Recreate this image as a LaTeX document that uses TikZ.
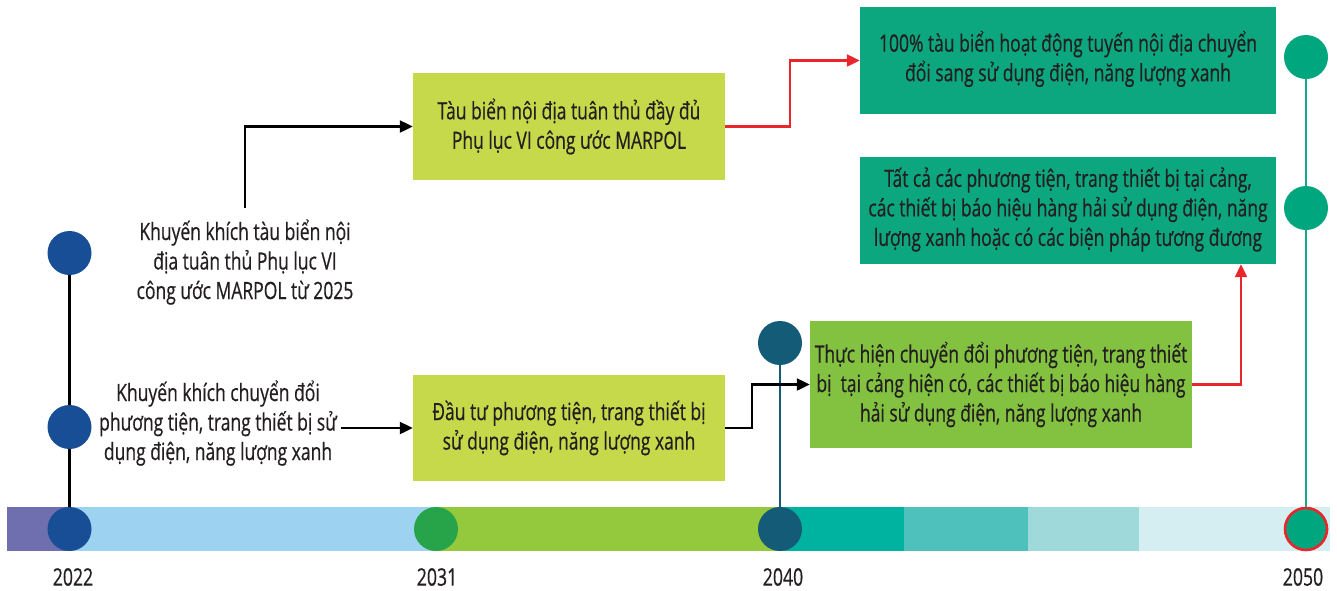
\documentclass[tikz,border=0pt]{standalone}
\usepackage{fontspec}
\setmainfont{Open Sans}[FakeStretch=0.735,FakeBold=0.5]
\usetikzlibrary{arrows.meta}
\definecolor{txt}{HTML}{231F20}
\definecolor{barPurple}{HTML}{6F6FB0}
\definecolor{barBlue}{HTML}{9DD2F0}
\definecolor{barGreen}{HTML}{94C83D}
\definecolor{barTealA}{HTML}{00B2A0}
\definecolor{barTealB}{HTML}{4FC1BC}
\definecolor{barTealC}{HTML}{A0D9DA}
\definecolor{barTealD}{HTML}{D5EEF1}
\definecolor{dotBlue}{HTML}{174E95}
\definecolor{dotGreen}{HTML}{27A34A}
\definecolor{dotPetrol}{HTML}{145B77}
\definecolor{dotTeal}{HTML}{00A67E}
\definecolor{redline}{HTML}{E8262B}
\definecolor{boxYellow}{HTML}{C5D94B}
\definecolor{boxGreen}{HTML}{83C241}
\definecolor{boxTeal}{HTML}{0CA67F}
\definecolor{lineTeal}{HTML}{18A88A}
\tikzset{
  box/.style={rectangle, inner sep=0pt, align=center, text=txt},
  freetext/.style={align=center, text=txt, inner sep=4pt},
  dot/.style={circle, minimum size=44pt, inner sep=0pt},
  year/.style={text=txt, font=\fontsize{24}{28}\selectfont},
  conn/.style={line width=2.2pt, -{Triangle[length=13pt,width=12pt]}},
  vline/.style={line width=2.2pt}
}
\begin{document}
\begin{tikzpicture}[x=1pt,y=-1pt,font=\fontsize{23.8}{29.5}\selectfont]
\useasboundingbox (0,0) rectangle (1337,590);
% timeline bar
\fill[barPurple] (7,507) rectangle (69,551);
\fill[barBlue] (69,507) rectangle (438,551);
\fill[barGreen] (438,507) rectangle (780,551);
\fill[barTealA] (780,507) rectangle (904,551);
\fill[barTealB] (904,507) rectangle (1028,551);
\fill[barTealC] (1028,507) rectangle (1139,551);
\fill[barTealD] (1139,507) rectangle (1330,551);
% dots
\node[dot, fill=dotBlue] (c22a) at (69.5,253) {};
\node[dot, fill=dotBlue] (c22b) at (69.5,427) {};
\node[dot, fill=dotBlue] (c22) at (69.5,529) {};
\node[dot, fill=dotGreen] (c31) at (436,529) {};
\node[dot, fill=dotPetrol] (c40a) at (780,343) {};
\node[dot, fill=dotPetrol] (c40) at (780,529) {};
\node[dot, fill=dotTeal] (c50a) at (1306,57) {};
\node[dot, fill=dotTeal] (c50b) at (1306,208) {};
\node[dot, fill=dotTeal, draw=redline, line width=2.6pt, minimum size=42pt] (c50) at (1306,529) {};
% vertical lines
\draw[vline, black] (c22a) -- (c22b);
\draw[vline, black] (c22b) -- (c22);
\draw[vline, dotPetrol] (c40a) -- (c40);
\draw[vline, lineTeal] (c50a) -- (c50b);
\draw[vline, lineTeal] (c50b) -- (c50);
% years
\node[year] (y22) at (73,577) {2022};
\node[year] (y31) at (437,577) {2031};
\node[year] (y40) at (783,577) {2040};
\node[year] (y50) at (1303,577) {2050};
% boxes
\node[box, fill=boxYellow, minimum width=312pt, minimum height=107pt] (A) at (569,126.5)
  {Tàu biển nội địa tuân thủ đầy đủ\\Phụ lục VI công ước MARPOL};
\node[box, fill=boxYellow, minimum width=312pt, minimum height=106pt] (B) at (569,428)
  {Đầu tư phương tiện, trang thiết bị\\sử dụng điện, năng lượng xanh};
\node[box, fill=boxGreen, minimum width=382pt, minimum height=127pt] (C) at (1001,384.5)
  {Thực hiện chuyển đổi phương tiện, trang thiết\\bị\ \ tại cảng hiện có, các thiết bị báo hiệu hàng\\hải sử dụng điện, năng lượng xanh};
\node[box, fill=boxTeal, minimum width=416pt, minimum height=107pt] (D) at (1068,60.5)
  {\raisebox{3pt}{\begin{tabular}{@{}c@{}}100\% tàu biển hoạt động tuyến nội địa chuyển\\đổi sang sử dụng điện, năng lượng xanh\end{tabular}}};
\node[box, fill=boxTeal, minimum width=416pt, minimum height=107pt] (E) at (1068,210.5)
  {\raisebox{3pt}{\begin{tabular}{@{}c@{}}Tất cả các phương tiện, trang thiết bị tại cảng,\\các thiết bị báo hiệu hàng hải sử dụng điện, năng\\lượng xanh hoặc có các biện pháp tương đương\end{tabular}}};
% free texts
\node[freetext, inner ysep=11pt] (T1) at (245,262)
  {Khuyến khích tàu biển nội\\địa tuân thủ Phụ lục VI\\công ước MARPOL từ 2025};
\node[freetext] (T2) at (218,423)
  {Khuyến khích chuyển đổi\\phương tiện, trang thiết bị sử\\dụng điện, năng lượng xanh};
% connectors
\draw[conn, black] (T1.north) |- (A.west);
\draw[conn, black] (T2.east |- B.west) -- (B.west);
\draw[conn, black] (B.east) -- ++(27,0) |- (C.west);
\draw[conn, redline] (A.east) -- ++(65,0) |- (D.west);
\draw[conn, redline] (C.east) -| ([xshift=173pt]E.south);
\end{tikzpicture}
\end{document}
